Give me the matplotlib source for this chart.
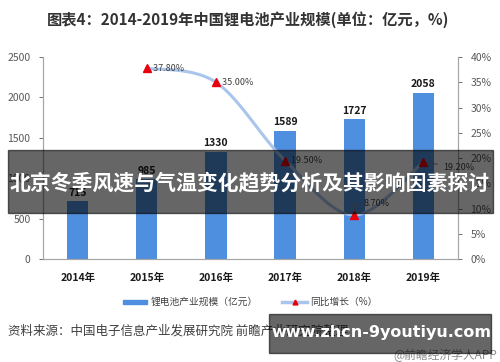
import numpy as np
import matplotlib
matplotlib.use('Agg')
import matplotlib.pyplot as plt
from matplotlib.patches import Rectangle
from matplotlib.lines import Line2D

plt.rcParams['font.family'] = ['Noto Sans CJK SC', 'DejaVu Sans']

years = ['2014年', '2015年', '2016年', '2017年', '2018年', '2019年']
scale = [715, 985, 1330, 1589, 1727, 2058]
growth_years = [1, 2, 3, 4, 5]
growth = [37.8, 35.0, 19.5, 8.7, 19.2]
growth_labels = ['37.80%', '35.00%', '19.50%', '8.70%', '19.20%']
title = '图表4：2014-2019年中国锂电池产业规模(单位：亿元，%)'
banner = '北京冬季风速与气温变化趋势分析及其影响因素探讨'
source = '资料来源：中国电子信息产业发展研究院 前瞻产业研究院整理'

BAR = '#4f8fe0'
LINE = '#a9c5ec'
GRAY = '#595959'


def smooth(xs, ys, sx, sy, n=30):
    """Catmull-Rom curve through the points, computed in pixel-like units."""
    p = np.column_stack([np.asarray(xs, float) * sx, np.asarray(ys, float) * sy])
    p = np.vstack([p[0], p, p[-1]])
    out = []
    for i in range(1, len(p) - 2):
        p0, p1, p2, p3 = p[i - 1], p[i], p[i + 1], p[i + 2]
        t = np.linspace(0, 1, n)[:, None]
        seg = 0.5 * ((2 * p1) + (-p0 + p2) * t + (2 * p0 - 5 * p1 + 4 * p2 - p3) * t ** 2
                     + (-p0 + 3 * p1 - 3 * p2 + p3) * t ** 3)
        out.append(seg)
    out = np.vstack(out)
    return out[:, 0] / sx, out[:, 1] / sy


fig = plt.figure(figsize=(5.0, 3.62), dpi=100)
ax = fig.add_axes([0.086, 0.2845, 0.83, 0.558])
ax2 = ax.twinx()

x = np.arange(len(years))
ax.bar(x, scale, width=0.31, color=BAR, zorder=2)
for xi, v in zip(x, scale):
    ax.text(xi, v + 45, str(v), ha='center', va='bottom', fontsize=7.5,
            fontweight='bold', color='#1a1a1a')

ax.set_xlim(-0.5, len(years) - 0.5)
ax.set_ylim(0, 2500)
ax.set_yticks(range(0, 2501, 500))
ax.set_xticks(x)
ax.set_xticklabels(years, fontsize=7.5, fontweight='bold', color='#1a1a1a')
ax.tick_params(axis='x', length=0, pad=10)
ax.tick_params(axis='y', labelsize=7.5, colors=GRAY, length=3, width=0.6, pad=6)

sx, sy = 69.2, 202 / 40
cx, cy = smooth(growth_years, growth, sx, sy)
ax2.plot(cx, cy, color=LINE, lw=2.2, zorder=3)
ax2.plot(growth_years, growth, ls='none', marker='^', ms=6, color='#e8000b', zorder=4)
ax2.set_ylim(0, 40)
ax2.set_yticks(range(0, 41, 5))
ax2.set_yticklabels([f'{v}%' for v in range(0, 41, 5)])
ax2.tick_params(axis='y', labelsize=7.5, colors=GRAY, length=3, width=0.6, pad=6)

for gx, gv, lab in zip(growth_years, growth, growth_labels):
    if lab == '8.70%':
        ax2.annotate(lab, xy=(gx, gv), xytext=(7, 8), textcoords='offset points',
                     fontsize=6.5, color='#404040', va='center',
                     arrowprops=dict(arrowstyle='-', color='#7f7f7f', lw=0.6,
                                     connectionstyle='angle,angleA=0,angleB=90'))
    elif gx == 5:
        ax2.annotate(lab, xy=(gx, gv), xytext=(14, -4), textcoords='offset points',
                     fontsize=6.5, color='#404040', va='center',
                     arrowprops=dict(arrowstyle='-', color='#7f7f7f', lw=0.6))
    else:
        ax2.text(gx, gv, '   ' + lab, fontsize=6.5, color='#404040', va='center', ha='left')

for a in (ax, ax2):
    a.spines['top'].set_visible(False)
    for s in ('left', 'right', 'bottom'):
        a.spines[s].set_color('#a6a6a6')
        a.spines[s].set_linewidth(0.8)

fig.text(0.496, 0.945, title, ha='center', va='center', fontsize=11,
         fontweight='bold', color='#333333')

# legend
fig.patches.append(Rectangle((123 / 500, 1 - 303.5 / 362), 24 / 500, 4 / 362,
                             transform=fig.transFigure, color=BAR))
fig.text(151 / 500, 1 - 302 / 362, '锂电池产业规模（亿元）', fontsize=7,
         color='#404040', va='center')
fig.lines.append(Line2D([282 / 500, 307 / 500], [1 - 302 / 362] * 2, transform=fig.transFigure,
                        color=LINE, lw=2.5))
fig.lines.append(Line2D([294.5 / 500], [1 - 302 / 362], transform=fig.transFigure,
                        marker='^', ms=3.5, color='#e8000b', ls='none'))
fig.text(310 / 500, 1 - 302 / 362, '同比增长（%）', fontsize=7, color='#404040', va='center')

fig.text(8 / 500, 1 - 331 / 362, source, fontsize=9, color='#404040', va='center')

# overlay banner
fig.patches.append(Rectangle((8 / 500, 1 - 213 / 362), 485 / 500, 63 / 362,
                             transform=fig.transFigure, color='black', alpha=0.6, zorder=10))
fig.text(250 / 500, 1 - 183 / 362, banner, ha='center', va='center', fontsize=15,
         fontweight='bold', color='white', zorder=11)

fig.text(497 / 500, 1 - 355 / 362, '@前瞻经济学人APP', ha='right', va='center',
         fontsize=8.5, color='#8c8c8c')
fig.patches.append(Rectangle((269 / 500, 1 - 353 / 362), 222 / 500, 39 / 362,
                             transform=fig.transFigure, color='black', alpha=0.6, zorder=10))
fig.text(381 / 500, 1 - 333 / 362, 'www.zhcn-9youtiyu.com', ha='center', va='center',
         fontsize=11.5, fontweight='bold', color='white', family='DejaVu Sans', zorder=11)

fig.savefig('out.png', dpi=100)
